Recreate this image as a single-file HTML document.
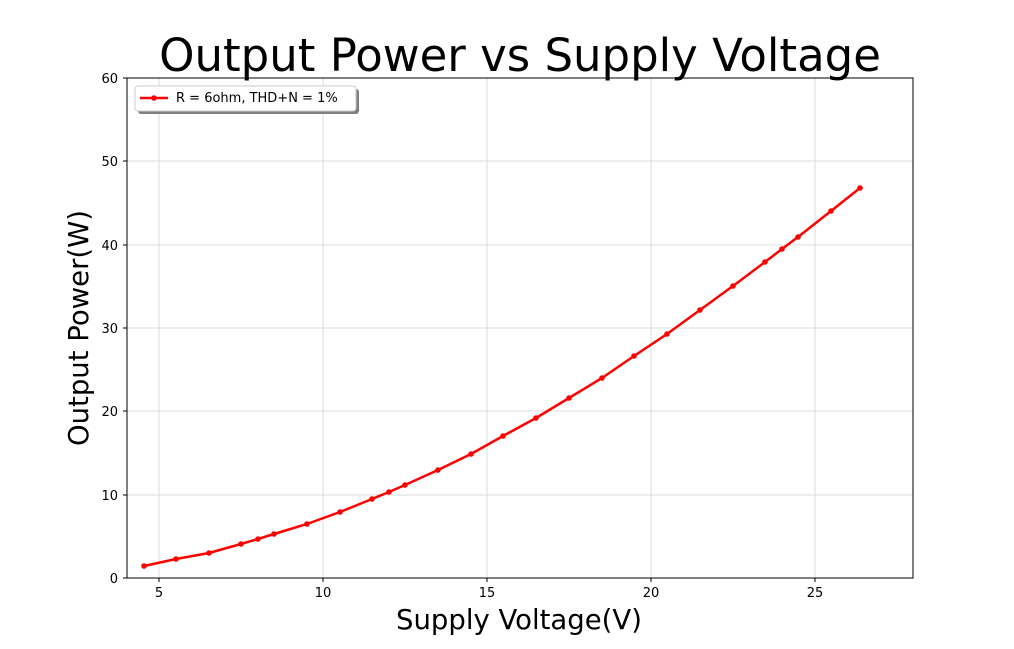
<!DOCTYPE html>
<html><head><style>body{margin:0;background:#fff}svg{display:block}</style></head><body>
<svg width="1014" height="649" xmlns="http://www.w3.org/2000/svg" font-family="'DejaVu Sans','Liberation Sans',sans-serif">
<rect width="1014" height="649" fill="#fff"/>
<g stroke="#d3d3d3" stroke-width="0.8">
<line x1="159" y1="78" x2="159" y2="578"/><line x1="323" y1="78" x2="323" y2="578"/>
<line x1="487" y1="78" x2="487" y2="578"/><line x1="651" y1="78" x2="651" y2="578"/>
<line x1="815" y1="78" x2="815" y2="578"/>
<line x1="127" y1="495" x2="913" y2="495"/><line x1="127" y1="411" x2="913" y2="411"/>
<line x1="127" y1="328" x2="913" y2="328"/><line x1="127" y1="245" x2="913" y2="245"/>
<line x1="127" y1="161" x2="913" y2="161"/>
</g>
<rect x="127" y="78" width="786" height="500" fill="none" stroke="#000" stroke-width="1"/>
<g stroke="#000"><line x1="159" y1="578" x2="159" y2="582"/><line x1="323" y1="578" x2="323" y2="582"/><line x1="487" y1="578" x2="487" y2="582"/><line x1="651" y1="578" x2="651" y2="582"/><line x1="815" y1="578" x2="815" y2="582"/>
<line x1="123" y1="578" x2="127" y2="578"/><line x1="123" y1="495" x2="127" y2="495"/><line x1="123" y1="411" x2="127" y2="411"/><line x1="123" y1="328" x2="127" y2="328"/><line x1="123" y1="245" x2="127" y2="245"/><line x1="123" y1="161" x2="127" y2="161"/><line x1="123" y1="78" x2="127" y2="78"/></g>
<g font-size="13" text-anchor="middle"><text x="159" y="597">5</text><text x="323" y="597">10</text><text x="487" y="597">15</text><text x="651" y="597">20</text><text x="815" y="597">25</text></g>
<g font-size="13" text-anchor="end"><text x="118" y="583">0</text><text x="118" y="500">10</text><text x="118" y="416">20</text><text x="118" y="333">30</text><text x="118" y="250">40</text><text x="118" y="166">50</text><text x="118" y="83">60</text></g>
<text x="520" y="71" font-size="45" text-anchor="middle">Output Power vs Supply Voltage</text>
<text x="519" y="629" font-size="27.5" text-anchor="middle">Supply Voltage(V)</text>
<text transform="translate(88,328) rotate(-90)" font-size="27.5" text-anchor="middle">Output Power(W)</text>
<polyline fill="none" stroke="#f00" stroke-width="2.5" points="144,566 176,559 209,553 241,544 258,539 274,534 307,524 340,512 372,499 389,492 405,485 438,470 471,454 503,436 536,418 569,398 602,378 634,356 667,334 700,310 733,286 765,262 782,249 798,237 831,211 860,188"/>
<g fill="#f00"><circle cx="144" cy="566" r="2.8"/><circle cx="176" cy="559" r="2.8"/><circle cx="209" cy="553" r="2.8"/><circle cx="241" cy="544" r="2.8"/><circle cx="258" cy="539" r="2.8"/><circle cx="274" cy="534" r="2.8"/><circle cx="307" cy="524" r="2.8"/><circle cx="340" cy="512" r="2.8"/><circle cx="372" cy="499" r="2.8"/><circle cx="389" cy="492" r="2.8"/><circle cx="405" cy="485" r="2.8"/><circle cx="438" cy="470" r="2.8"/><circle cx="471" cy="454" r="2.8"/><circle cx="503" cy="436" r="2.8"/><circle cx="536" cy="418" r="2.8"/><circle cx="569" cy="398" r="2.8"/><circle cx="602" cy="378" r="2.8"/><circle cx="634" cy="356" r="2.8"/><circle cx="667" cy="334" r="2.8"/><circle cx="700" cy="310" r="2.8"/><circle cx="733" cy="286" r="2.8"/><circle cx="765" cy="262" r="2.8"/><circle cx="782" cy="249" r="2.8"/><circle cx="798" cy="237" r="2.8"/><circle cx="831" cy="211" r="2.8"/><circle cx="860" cy="188" r="2.8"/></g>
<rect x="138" y="89" width="221" height="25" rx="3" fill="#808080"/>
<rect x="135" y="86" width="221" height="25" rx="3" fill="#fff" stroke="#ccc"/>
<line x1="140" y1="98" x2="168" y2="98" stroke="#f00" stroke-width="2.5"/><circle cx="154" cy="98" r="2.8" fill="#f00"/>
<text x="176" y="102" font-size="13">R = 6ohm, THD+N = 1%</text>
</svg>
</body></html>
